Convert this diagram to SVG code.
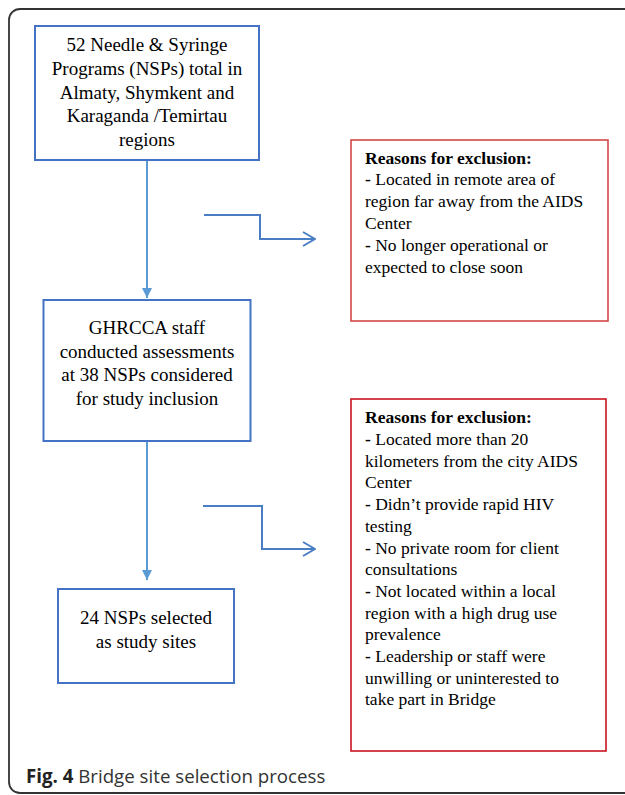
<svg xmlns="http://www.w3.org/2000/svg" width="625" height="795" viewBox="0 0 625 795">
<style>
.box{fill:#fff;stroke:#4472C4;stroke-width:2}
.rbox{fill:#fff;stroke-width:1.6}
.t{font-family:"Liberation Serif","Times New Roman",serif;font-size:19px;fill:#000}
.c{text-anchor:middle}
.r{font-family:"Liberation Serif","Times New Roman",serif;font-size:17.5px;fill:#000}
.b{font-weight:bold}
.v{fill:none;stroke:#5B9BD5;stroke-width:2}
.e{fill:none;stroke:#4A7EC4;stroke-width:2}
</style>
<defs>
<marker id="tri" viewBox="0 0 10 10" refX="10" refY="5" markerWidth="10" markerHeight="10" markerUnits="userSpaceOnUse" orient="auto">
<path d="M0,0 L10,5 L0,10 Z" fill="#5B9BD5"/>
</marker>
<marker id="chev" viewBox="0 0 14 16" refX="13" refY="8" markerWidth="14" markerHeight="16" markerUnits="userSpaceOnUse" orient="auto">
<path d="M1,1 L13,8 L1,15" fill="none" stroke="#4A7EC4" stroke-width="2"/>
</marker>
</defs>
<rect x="9" y="9" width="650" height="784" rx="11" fill="#fff" stroke="#333" stroke-width="1.8"/>
<g id="connectors">
<line class="v" x1="147" y1="160" x2="147" y2="298" marker-end="url(#tri)"/>
<line class="v" x1="147" y1="441" x2="147" y2="580" marker-end="url(#tri)"/>
<polyline class="e" points="204,215 260,215 260,239 315,239" marker-end="url(#chev)"/>
<polyline class="e" points="203,506 262,506 262,549 315,549" marker-end="url(#chev)"/>
</g>
<g id="n1">
<rect class="box" x="35" y="26" width="224" height="134"/>
<text class="t c" x="147" y="51">52 Needle &amp; Syringe</text>
<text class="t c" x="147" y="75">Programs (NSPs) total in</text>
<text class="t c" x="147" y="98.5">Almaty, Shymkent and</text>
<text class="t c" x="147" y="122">Karaganda /Temirtau</text>
<text class="t c" x="147" y="146">regions</text>
</g>
<g id="n2">
<rect class="box" x="43.5" y="300" width="207" height="141"/>
<text class="t c" x="147" y="333.5">GHRCCA staff</text>
<text class="t c" x="147" y="357.5">conducted assessments</text>
<text class="t c" x="147" y="381">at 38 NSPs considered</text>
<text class="t c" x="147" y="405">for study inclusion</text>
</g>
<g id="n3">
<rect class="box" x="58" y="589" width="176" height="94"/>
<text class="t c" x="146" y="623.5">24 NSPs selected</text>
<text class="t c" x="146" y="648">as study sites</text>
</g>
<g id="x1">
<rect class="rbox" x="351" y="140" width="257" height="181" stroke="#D44848"/>
<text class="r b" x="365" y="163.5">Reasons for exclusion:</text>
<text class="r" x="365" y="185.4"><tspan class="b">-</tspan> Located in remote area of</text>
<text class="r" x="365" y="207.3">region far away from the AIDS</text>
<text class="r" x="365" y="229.2">Center</text>
<text class="r" x="365" y="251.1"><tspan class="b">-</tspan> No longer operational or</text>
<text class="r" x="365" y="273">expected to close soon</text>
</g>
<g id="x2">
<rect class="rbox" x="351" y="399" width="255" height="352" stroke="#C8141E"/>
<text class="r b" x="365" y="423">Reasons for exclusion:</text>
<text class="r" x="365" y="445"><tspan class="b">-</tspan> Located more than 20</text>
<text class="r" x="365" y="466.7">kilometers from the city AIDS</text>
<text class="r" x="365" y="488.4">Center</text>
<text class="r" x="365" y="510.1"><tspan class="b">-</tspan> Didn’t provide rapid HIV</text>
<text class="r" x="365" y="531.8">testing</text>
<text class="r" x="365" y="553.5"><tspan class="b">-</tspan> No private room for client</text>
<text class="r" x="365" y="575.2">consultations</text>
<text class="r" x="365" y="596.9"><tspan class="b">-</tspan> Not located within a local</text>
<text class="r" x="365" y="618.6">region with a high drug use</text>
<text class="r" x="365" y="640.3">prevalence</text>
<text class="r" x="365" y="662"><tspan class="b">-</tspan> Leadership or staff were</text>
<text class="r" x="365" y="683.7">unwilling or uninterested to</text>
<text class="r" x="365" y="705.4">take part in Bridge</text>
</g>
<text x="26" y="783" font-family="'Open Sans','Noto Sans',sans-serif" font-size="18.7px" fill="#333"><tspan font-weight="bold" fill="#222">Fig. 4</tspan> Bridge site selection process</text>
</svg>
